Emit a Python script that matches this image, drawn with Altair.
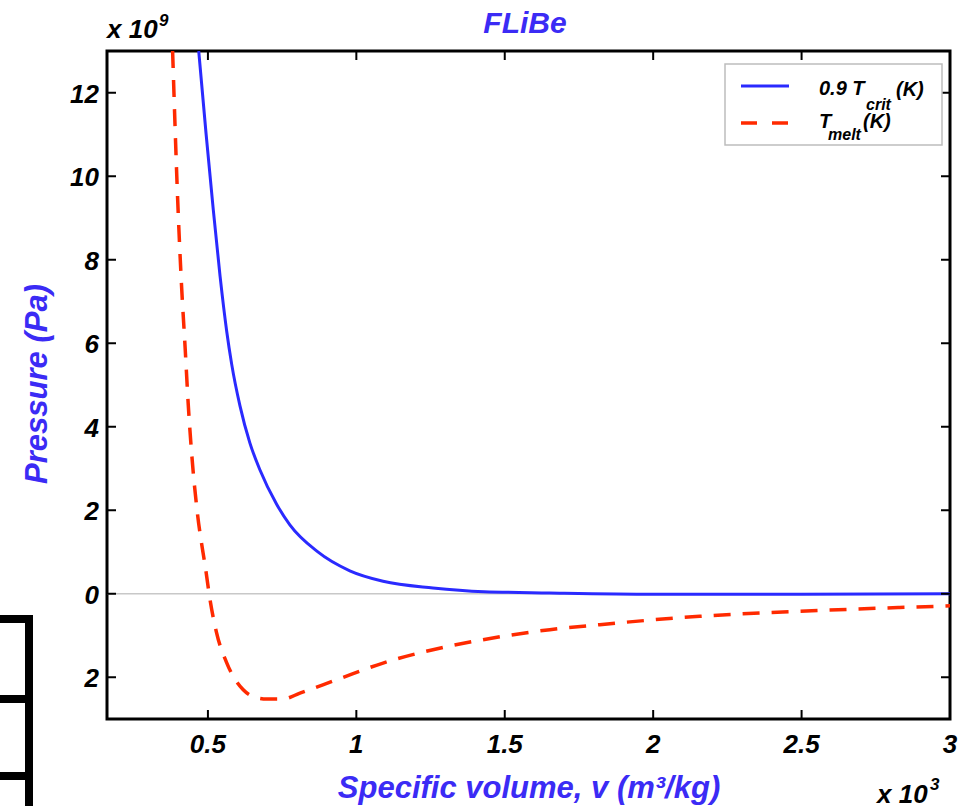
import altair as alt
import pandas as pd

# ---- data (pressure in 1e9 Pa, volume in 1e-3 m^3/kg)
crit_v = [0.469, 0.494, 0.518, 0.541, 0.563, 0.580, 0.608, 0.641, 0.675, 0.731,
          0.776, 0.867, 0.978, 1.090, 1.258, 1.430, 1.650, 2.000, 2.500, 3.000]
crit_p = [13.0, 11.0, 9.2, 7.6, 6.3, 5.5, 4.5, 3.62, 2.97, 2.15,
          1.65, 1.02, 0.55, 0.30, 0.14, 0.05, 0.02, -0.01, -0.01, 0.0]

melt_v = [0.381, 0.399, 0.411, 0.423, 0.434, 0.450, 0.462, 0.496, 0.504, 0.529,
          0.563, 0.619, 0.660, 0.698, 0.753, 0.810, 0.934, 1.090, 1.258, 1.427,
          1.652, 1.820, 2.157, 2.494, 2.830, 3.000]
melt_p = [13.0, 9.28, 7.4, 5.92, 4.5, 2.95, 2.09, 0.41, 0.0, -0.93,
          -1.65, -2.3, -2.48, -2.52, -2.52, -2.38, -2.06, -1.66, -1.34, -1.10,
          -0.86, -0.74, -0.54, -0.42, -0.33, -0.29]

x_ticks = [0.5, 1, 1.5, 2, 2.5, 3]
x_labels = ["0.5", "1", "1.5", "2", "2.5", "3"]
y_ticks = [-2, 0, 2, 4, 6, 8, 10, 12]
y_labels = ["2", "0", "2", "4", "6", "8", "10", "12"]   # minus sign lost in the original

title_text = "FLiBe"
x_title = "Specific volume, v (m³/kg)"
y_title = "Pressure (Pa)"

# ---- layout / style
W, H = 843, 668
X_DOMAIN = [0.16, 3.0]
Y_DOMAIN = [-3, 13]
FONT = "Liberation Sans"
BLUE_TEXT = "#3b2bf5"
BLUE = "#2a2aff"
RED = "#ff2a00"

xs = alt.Scale(domain=X_DOMAIN, nice=False, zero=False)
ys = alt.Scale(domain=Y_DOMAIN, nice=False, zero=False)

crit_df = pd.DataFrame({"v": crit_v, "p": crit_p})
melt_df = pd.DataFrame({"v": melt_v, "p": melt_p})
xt_df = pd.DataFrame({"v": x_ticks, "lab": x_labels})
yt_df = pd.DataFrame({"p": y_ticks, "lab": y_labels})
one = pd.DataFrame({"a": [0]})
zero_df = pd.DataFrame({"p": [0]})

X = alt.X("v:Q", scale=xs, axis=None)
Y = alt.Y("p:Q", scale=ys, axis=None)

zero_line = alt.Chart(zero_df).mark_rule(color="#c8c8c8", strokeWidth=1.5).encode(y=Y)

melt_line = alt.Chart(melt_df).mark_line(
    color=RED, strokeWidth=3.5, strokeDash=[17, 12], interpolate="monotone", clip=True
).encode(x=X, y=Y, order="v:Q")

crit_line = alt.Chart(crit_df).mark_line(
    color=BLUE, strokeWidth=3, interpolate="monotone", clip=True
).encode(x=X, y=Y, order="v:Q")

tick_style = dict(color="black", strokeWidth=2)
xt_bottom = alt.Chart(xt_df).mark_rule(**tick_style).encode(x=X, y=alt.value(H), y2=alt.value(H - 9))
xt_top = alt.Chart(xt_df).mark_rule(**tick_style).encode(x=X, y=alt.value(0), y2=alt.value(9))
yt_left = alt.Chart(yt_df).mark_rule(**tick_style).encode(y=Y, x=alt.value(0), x2=alt.value(9))
yt_right = alt.Chart(yt_df).mark_rule(**tick_style).encode(y=Y, x=alt.value(W), x2=alt.value(W - 9))

lab_style = dict(font=FONT, fontSize=26, fontWeight="bold", fontStyle="italic",
                 color="black", baseline="alphabetic")
x_tick_labels = alt.Chart(xt_df).mark_text(align="center", **lab_style).encode(
    x=X, y=alt.value(702), text="lab:N")
y_tick_labels = alt.Chart(yt_df).mark_text(align="right", dy=10, **lab_style).encode(
    y=Y, x=alt.value(-8), text="lab:N")

# ---- legend (manual, to allow subscripts)
leg_box = alt.Chart(one).mark_rect(fill="white", stroke="#bdbdbd", strokeWidth=1.5).encode(
    x=alt.value(618), x2=alt.value(835), y=alt.value(13), y2=alt.value(94))
leg_blue = alt.Chart(one).mark_rule(color=BLUE, strokeWidth=3).encode(
    x=alt.value(634), x2=alt.value(682), y=alt.value(35))
leg_red = alt.Chart(one).mark_rule(color=RED, strokeWidth=3.5, strokeDash=[16, 15]).encode(
    x=alt.value(634), x2=alt.value(682), y=alt.value(72))


def txt(s, x, y, size, color="black", align="left", angle=0):
    return alt.Chart(one).mark_text(
        text=s, font=FONT, fontSize=size, fontWeight="bold", fontStyle="italic",
        color=color, align=align, baseline="alphabetic", angle=angle
    ).encode(x=alt.value(x), y=alt.value(y))


legend_texts = [
    txt("0.9 T", 712, 44, 20),
    txt("crit", 759, 59, 16),
    txt("(K)", 789, 45, 20),
    txt("T", 712, 77, 20),
    txt("melt", 721, 89, 16),
    txt("(K)", 756, 77, 20),
]

other_texts = [
    txt(title_text, 418, -18, 30, color=BLUE_TEXT, align="center"),
    txt(x_title, 422, 747, 31, color=BLUE_TEXT, align="center"),
    txt(y_title, -60, 333, 31, color=BLUE_TEXT, align="center", angle=270),
    txt("x 10", 0, -13, 26),
    txt("9", 52, -25, 17),
    txt("x 10", 770, 752, 26),
    txt("3", 823, 739, 17),
]

# ---- black bracket fragment at the lower left of the picture
br = dict(color="black", strokeWidth=8)
brackets = [
    alt.Chart(one).mark_rule(**br).encode(x=alt.value(-78), y=alt.value(564), y2=alt.value(755)),
    alt.Chart(one).mark_rule(**br).encode(x=alt.value(-107), x2=alt.value(-74), y=alt.value(568)),
    alt.Chart(one).mark_rule(**br).encode(x=alt.value(-107), x2=alt.value(-78), y=alt.value(648)),
    alt.Chart(one).mark_rule(**br).encode(x=alt.value(-107), x2=alt.value(-74), y=alt.value(725)),
]

chart = alt.layer(
    zero_line, melt_line, crit_line, xt_bottom, xt_top, yt_left, yt_right,
    x_tick_labels, y_tick_labels,
    leg_box, leg_blue, leg_red, *legend_texts, *other_texts, *brackets
).properties(
    width=W, height=H,
    autosize="none",
    padding={"left": 107, "top": 51, "right": 27, "bottom": 87},
    background="white",
).configure_view(stroke="black", strokeWidth=3)

chart.save("out.html", embed_options={"renderer": "svg", "actions": False})
